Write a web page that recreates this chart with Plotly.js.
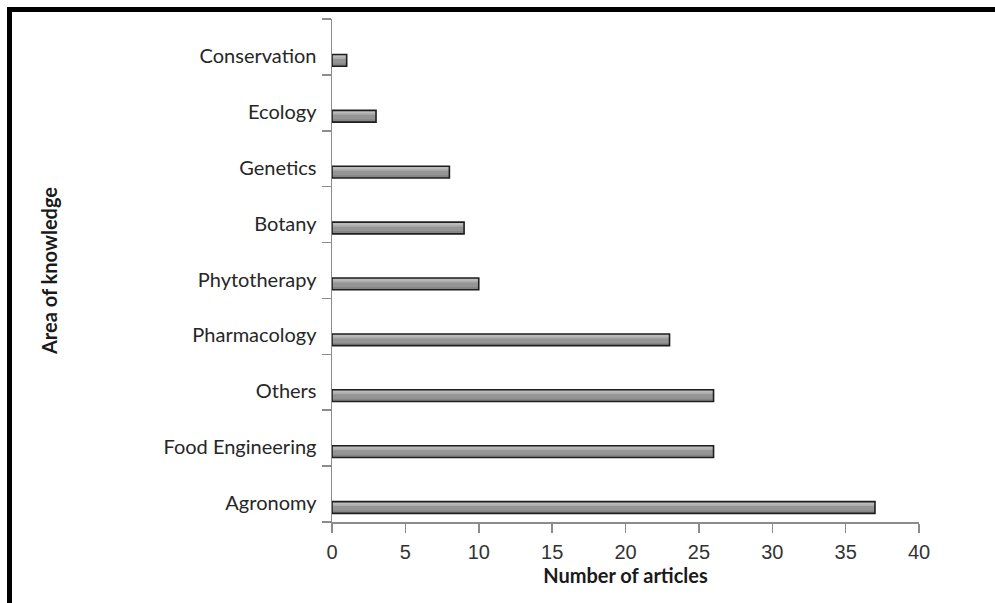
<!DOCTYPE html>
<html>
<head>
<meta charset="utf-8">
<script src="https://cdn.plot.ly/plotly-3.0.1.min.js"></script>
<style>
  html, body { margin: 0; padding: 0; background: #fff; overflow: hidden; }
  #wrap { position: relative; width: 995px; height: 603px; }
  #chart { position: absolute; left: 0; top: 0; width: 995px; height: 603px; }
  #frame { position: absolute; left: 7px; top: 7px; width: 2000px; height: 2000px;
           border-left: 5px solid #000; border-top: 5px solid #000; pointer-events: none; }
</style>
</head>
<body>
<div id="wrap">
  <div id="chart"></div>
  <div id="frame"></div>
</div>
<script>
// Data (bottom to top, as on the chart)
const categories = ["Agronomy", "Food Engineering", "Others", "Pharmacology", "Phytotherapy", "Botany", "Genetics", "Ecology", "Conservation"];
const articles = [37, 26, 26, 23, 10, 9, 8, 3, 1];
const xTickValues = [0, 5, 10, 15, 20, 25, 30, 35, 40];
const xTitle = "Number of articles";
const yTitle = "Area of knowledge";

const barWidth = 0.21;
const barOffset = -0.345;

const base = {
  type: "bar", orientation: "h", x: articles, y: categories,
  width: barWidth, offset: barOffset, hoverinfo: "skip", showlegend: false
};

const traces = [
  Object.assign({}, base, { marker: { color: "#959595", line: { width: 0 } } }),
  Object.assign({}, base, { width: 0.08, offset: barOffset + barWidth - 0.08,
    marker: { color: "rgba(255,255,255,0.22)", line: { width: 0 } } }),
  Object.assign({}, base, { width: 0.04, offset: barOffset + barWidth - 0.05,
    marker: { color: "rgba(255,255,255,0.18)", line: { width: 0 } } }),
  Object.assign({}, base, { width: 0.05, offset: barOffset,
    marker: { color: "rgba(0,0,0,0.10)", line: { width: 0 } } }),
  Object.assign({}, base, { marker: { color: "rgba(0,0,0,0)", line: { color: "#1e1e1e", width: 1.6 } } })
];

const layout = {
  width: 995, height: 603,
  margin: { l: 332, r: 76, t: 19, b: 81, pad: 0 },
  paper_bgcolor: "#ffffff", plot_bgcolor: "#ffffff",
  barmode: "overlay",
  font: { family: "Lato, 'Open Sans', sans-serif", color: "#262626" },
  xaxis: {
    range: [0, 40], tickmode: "array", tickvals: xTickValues,
    ticks: "outside", ticklen: 9, tickwidth: 1.5, tickcolor: "#8c8c8c",
    showline: true, linecolor: "#8c8c8c", linewidth: 1.5,
    showgrid: false, zeroline: false, fixedrange: true,
    tickfont: { family: "'Liberation Sans Narrow', 'Liberation Sans', sans-serif", size: 20, color: "#333" },
    ticklabelstandoff: 2,
    title: { text: "<b>" + xTitle + "</b>", font: { family: "Lato, sans-serif", size: 20, color: "#1a1a1a" }, standoff: 6 }
  },
  yaxis: {
    type: "category", categoryorder: "array", categoryarray: categories,
    range: [-0.5, categories.length - 0.5],
    tickson: "boundaries", ticks: "outside", ticklen: 9, tickwidth: 1.5, tickcolor: "#8c8c8c",
    showline: true, linecolor: "#8c8c8c", linewidth: 1.5,
    showgrid: false, zeroline: false, fixedrange: true,
    tickfont: { family: "Lato, sans-serif", size: 20, color: "#262626" },
    ticklabelshift: 9, ticklabelstandoff: 10,
    title: { text: "<b>" + yTitle + "</b>", font: { family: "Lato, sans-serif", size: 20, color: "#1a1a1a" }, standoff: 100 }
  }
};

Plotly.newPlot("chart", traces, layout, { displayModeBar: false, staticPlot: true });
</script>
</body>
</html>
